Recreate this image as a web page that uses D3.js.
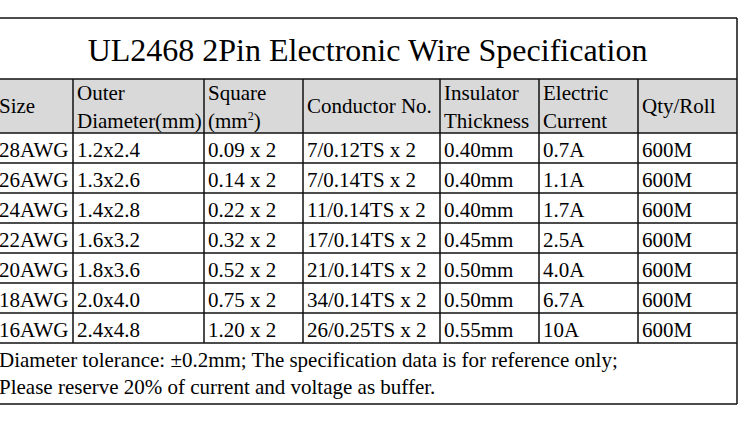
<!DOCTYPE html>
<html>
<head>
<meta charset="utf-8">
<script src="https://cdn.jsdelivr.net/npm/d3@7"></script>
<style>
  body { margin: 0; background: #fff; }
  text { font-family: "Liberation Serif", "Times New Roman", serif; fill: #000; }
</style>
</head>
<body>
<div id="chart"></div>
<script>
// table content
const title = "UL2468 2Pin Electronic Wire Specification";
const headers = [
  ["Size"],
  ["Outer", "Diameter(mm)"],
  ["Square", "(mm2)"],
  ["Conductor No."],
  ["Insulator", "Thickness"],
  ["Electric", "Current"],
  ["Qty/Roll"]
];
const sizes = ["28AWG", "26AWG", "24AWG", "22AWG", "20AWG", "18AWG", "16AWG"];
const outerDiameter = ["1.2x2.4", "1.3x2.6", "1.4x2.8", "1.6x3.2", "1.8x3.6", "2.0x4.0", "2.4x4.8"];
const square = ["0.09 x 2", "0.14 x 2", "0.22 x 2", "0.32 x 2", "0.52 x 2", "0.75 x 2", "1.20 x 2"];
const conductor = ["7/0.12TS x 2", "7/0.14TS x 2", "11/0.14TS x 2", "17/0.14TS x 2", "21/0.14TS x 2", "34/0.14TS x 2", "26/0.25TS x 2"];
const insulator = ["0.40mm", "0.40mm", "0.40mm", "0.45mm", "0.50mm", "0.50mm", "0.55mm"];
const current = ["0.7A", "1.1A", "1.7A", "2.5A", "4.0A", "6.7A", "10A"];
const qtyRoll = ["600M", "600M", "600M", "600M", "600M", "600M", "600M"];
const notes = [
  "Diameter tolerance: \u00b10.2mm; The specification data is for reference only;",
  "Please reserve 20% of current and voltage as buffer."
];

const columns = [sizes, outerDiameter, square, conductor, insulator, current, qtyRoll];

// layout
const W = 750, H = 433;
const colWidths = [73, 131, 99, 137, 99, 99, 99];
const tableTop = 18, titleBottom = 79, headerBottom = 133, rowsBottom = 343, tableBottom = 404;
const left = 0;
const fs = "21px";

const svg = d3.select("#chart").append("svg")
  .attr("width", W).attr("height", H);

const edges = [left];
colWidths.forEach(w => edges.push(edges[edges.length - 1] + w));
const right = edges[edges.length - 1];

const xScale = d3.scaleOrdinal().domain(d3.range(columns.length)).range(edges.slice(0, -1));
const yScale = d3.scaleBand().domain(sizes).range([headerBottom, rowsBottom]);
const textX = i => xScale(i) + (i === 0 ? -1 : 4);

// header background
svg.append("rect")
  .attr("x", left).attr("y", titleBottom)
  .attr("width", right - left).attr("height", headerBottom - titleBottom)
  .attr("fill", "#d9d9d9");

// title
svg.append("text")
  .attr("x", (left + right) / 2 - 1)
  .attr("y", 61)
  .attr("text-anchor", "middle")
  .attr("font-size", "32px")
  .text(title);

// header cells
const hdr = svg.append("g");
headers.forEach((lines, i) => {
  const t = hdr.append("text")
    .attr("x", textX(i))
    .attr("font-size", fs);
  if (lines.length === 1) {
    t.attr("y", 113).text(lines[0]);
  } else {
    t.append("tspan").attr("x", textX(i)).attr("y", 100).text(lines[0]);
    const l2 = t.append("tspan").attr("x", textX(i)).attr("y", 128);
    if (lines[1] === "(mm2)") {
      l2.text("(mm");
      t.append("tspan").attr("font-size", "12px").attr("dy", -8).text("2");
      t.append("tspan").attr("dy", 8).text(")");
    } else {
      l2.text(lines[1]);
    }
  }
});

// body cells
columns.forEach((col, i) => {
  svg.append("g").selectAll("text")
    .data(col)
    .join("text")
    .attr("x", textX(i))
    .attr("y", (d, j) => yScale(sizes[j]) + 24)
    .attr("font-size", fs)
    .text(d => d);
});

// notes
svg.append("g").selectAll("text")
  .data(notes)
  .join("text")
  .attr("x", -1)
  .attr("y", (d, i) => 367 + i * 27)
  .attr("font-size", fs)
  .text(d => d);

// grid lines
const g = svg.append("g").attr("stroke", "#111").attr("stroke-width", 1.5);
[tableTop, titleBottom, headerBottom].concat(sizes.map(s => yScale(s) + yScale.bandwidth()), [tableBottom])
  .forEach(y => g.append("line").attr("x1", left).attr("x2", right).attr("y1", y).attr("y2", y));
edges.slice(1, -1).forEach(x =>
  g.append("line").attr("x1", x).attr("x2", x).attr("y1", titleBottom).attr("y2", rowsBottom));
g.append("line").attr("x1", right).attr("x2", right).attr("y1", tableTop).attr("y2", tableBottom);
</script>
</body>
</html>
